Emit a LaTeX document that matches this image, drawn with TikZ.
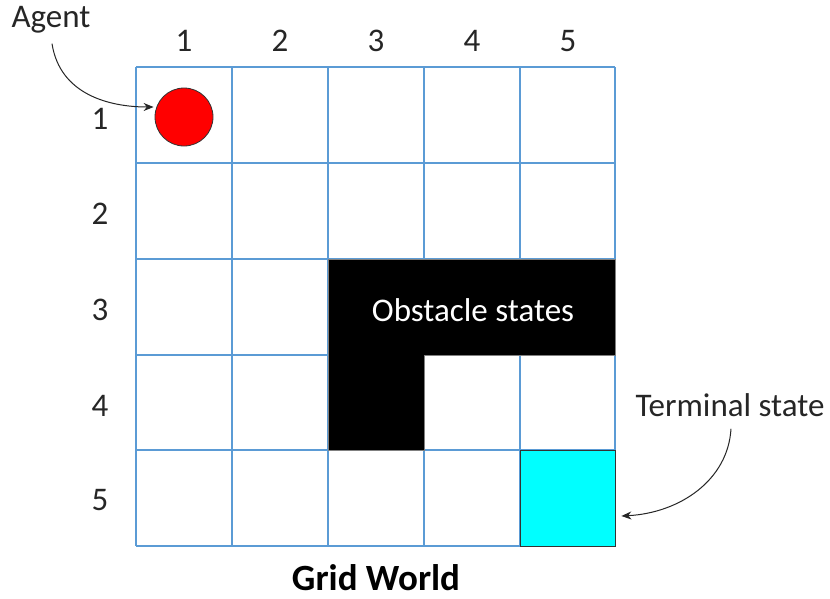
\documentclass[tikz,border=0pt]{standalone}
\usepackage{fontspec}
\setmainfont{Carlito}
\usetikzlibrary{arrows.meta,calc}
\definecolor{gridblue}{RGB}{91,155,213}
\definecolor{txt}{RGB}{38,38,38}
\definecolor{termcyan}{RGB}{0,255,255}
\definecolor{agentred}{RGB}{255,0,0}
\tikzset{
  lbl/.style={text=txt, font=\fontsize{33}{38}\selectfont, inner sep=0pt},
  callout/.style={draw=txt, line width=1pt, -{Stealth[length=10pt,width=8pt]}},
  gridline/.style={draw=gridblue, line width=1.4pt},
}
\begin{document}
\begin{tikzpicture}[x=1pt,y=-1pt]
\useasboundingbox (0,0) rectangle (830,598);
\fill[white] (0,0) rectangle (830,598);
% grid
\foreach \v in {136,232,328,424,520,615}{
  \draw[gridline] (\v,67) -- (\v,546);
}
\foreach \h in {67,163,259,355,450,546}{
  \draw[gridline] (136,\h) -- (615,\h);
}
% obstacle
\filldraw[fill=black, draw=gray, line width=0.8pt]
  (328,259) -- (615,259) -- (615,355) -- (424,355) -- (424,450) -- (328,450) -- cycle;
\node[text=white, font=\fontsize{33}{38}\selectfont, inner sep=0pt] (obst) at (473,310) {Obstacle states};
% terminal cell
\node[draw=black!80, fill=termcyan, line width=0.8pt, minimum width=95pt, minimum height=96pt, inner sep=0pt] (term) at (567.5,498) {};
% agent
\node[draw=black!80, fill=agentred, circle, line width=0.8pt, minimum size=58pt, inner sep=0pt] (ball) at (184,117) {};
% column labels
\foreach \i/\x in {1/184,2/280,3/376,4/472,5/568}{
  \node[lbl] (c\i) at (\x,41) {\i};
}
% row labels
\foreach \i/\y in {1/119,2/214,3/310,4/406,5/500}{
  \node[lbl] (r\i) at (100,\y) {\i};
}
% callouts
\node[lbl] (agent) at (51,20) {Agent};
\node[lbl] (termlbl) at (730,405) {Terminal state};
\draw[callout] ($(agent.south)+(1,10)$) .. controls (60,95) and (110,107) .. ($(ball.west)+(-1,-10)$);
\draw[callout] ($(termlbl.south)+(1,12)$) .. controls (728,480) and (680,513) .. ($(term.east)+(6,18)$);
% title
\node[text=black, font=\bfseries\fontsize{37}{42}\selectfont, inner sep=0pt, anchor=base, text depth=0pt] (title) at (376,590) {Grid World};
\end{tikzpicture}
\end{document}
